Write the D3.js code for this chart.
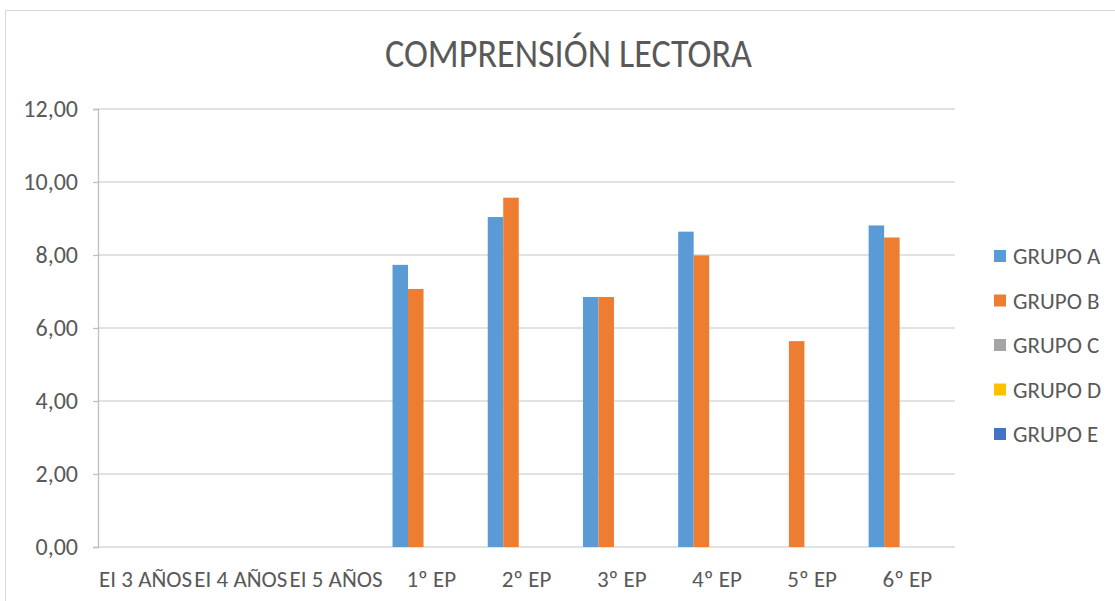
<!DOCTYPE html>
<html>
<head>
<meta charset="utf-8">
<script src="https://cdn.jsdelivr.net/npm/d3@7"></script>
<style>
  body { margin: 0; background: #fff; }
  text { font-family: Calibri, Carlito, "Liberation Sans Narrow", "Open Sans", sans-serif; fill: #595959; }
</style>
</head>
<body>
<svg id="chart" width="1115" height="601"></svg>
<script>
// Data
const categories = ["EI 3 AÑOS", "EI 4 AÑOS", "EI 5 AÑOS", "1º EP", "2º EP", "3º EP", "4º EP", "5º EP", "6º EP"]
const groups = ["GRUPO A", "GRUPO B", "GRUPO C", "GRUPO D", "GRUPO E"]
const grupoA = [null, null, null, 7.73, 9.04, 6.85, 8.64, null, 8.81]
const grupoB = [null, null, null, 7.07, 9.57, 6.85, 7.99, 5.64, 8.48]
const grupoC = [null, null, null, null, null, null, null, null, null]
const grupoD = [null, null, null, null, null, null, null, null, null]
const grupoE = [null, null, null, null, null, null, null, null, null]
const yTicks = [0, 2, 4, 6, 8, 10, 12]
const colors = ["#5b9bd5", "#ed7d31", "#a5a5a5", "#ffc000", "#4472c4"]

const series = [grupoA, grupoB, grupoC, grupoD, grupoE]

let svg = d3.select("#chart")

// chart border
svg.append("rect")
    .attr("x", 5.5).attr("y", 10.5)
    .attr("width", 1130).attr("height", 620)
    .attr("fill", "none").attr("stroke", "#d9d9d9")

const plotLeft = 98, plotRight = 955, plotTop = 109, plotBottom = 547

const x = d3.scaleBand().domain(categories).range([plotLeft, plotRight]).paddingInner(0.186).paddingOuter(0.093)
const x0 = d3.scaleBand().domain(categories).range([plotLeft, plotRight])
const xs = d3.scaleBand().domain(groups).range([0, x.bandwidth()])
const y = d3.scaleLinear().domain([0, 12]).range([plotBottom, plotTop])

// gridlines
svg.append("g")
  .selectAll("line")
  .data(yTicks)
  .enter().append("line")
    .attr("x1", plotLeft).attr("x2", plotRight)
    .attr("y1", d => y(d)).attr("y2", d => y(d))
    .attr("stroke", "#d9d9d9").attr("stroke-width", 1.3)

// y axis
let yAxis = svg.append("g")
    .attr("transform", `translate(${plotLeft},0)`)
    .call(d3.axisLeft(y).tickValues(yTicks).tickSize(5).tickPadding(15)
      .tickFormat(d => d3.format(".2f")(d).replace(".", ",")))
yAxis.select(".domain").attr("stroke", "#bfbfbf").attr("stroke-width", 1.3)
yAxis.selectAll(".tick line").attr("stroke", "#bfbfbf").attr("stroke-width", 1.3)
yAxis.selectAll(".tick text").attr("font-size", 24).attr("fill", "#595959")

// x axis labels
let xAxis = svg.append("g")
    .attr("transform", `translate(0,${plotBottom})`)
    .call(d3.axisBottom(x0).tickSize(0).tickPadding(24))
xAxis.select(".domain").remove()
xAxis.selectAll(".tick text").attr("font-size", 23).attr("fill", "#595959")

// bars
groups.forEach((g, i) => {
  svg.append("g")
    .selectAll("rect")
    .data(series[i].map((v, j) => ({ cat: categories[j], v: v })).filter(d => d.v != null))
    .enter().append("rect")
      .attr("x", d => x(d.cat) + xs(g))
      .attr("y", d => y(d.v))
      .attr("width", xs.bandwidth())
      .attr("height", d => y(0) - y(d.v))
      .attr("fill", colors[i])
})

// title
svg.append("text")
    .attr("x", 385).attr("y", 67)
    .attr("font-size", 41)
    .attr("textLength", 367)
    .attr("lengthAdjust", "spacingAndGlyphs")
    .text("COMPRENSIÓN LECTORA")

// legend
let legend = svg.append("g")
  .selectAll("g")
  .data(groups)
  .enter().append("g")
    .attr("transform", (d, i) => `translate(994,${256 + i * 44.5})`)
legend.append("rect")
    .attr("x", 0).attr("y", -6).attr("width", 12).attr("height", 12)
    .attr("fill", (d, i) => colors[i])
legend.append("text")
    .attr("x", 19).attr("y", 0).attr("dy", "0.35em")
    .attr("font-size", 23)
    .text(d => d)
</script>
</body>
</html>
